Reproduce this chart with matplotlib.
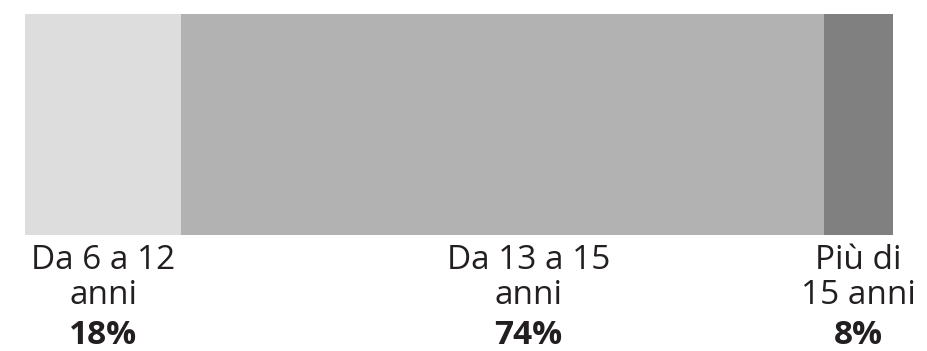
import matplotlib.pyplot as plt

# age groups of the chart
labels = ['Da 6 a 12\nanni', 'Da 13 a 15\nanni', 'Più di\n15 anni']
shares = [18, 74, 8]
pct_labels = ['18%', '74%', '8%']
colors = ['#dddddd', '#b2b2b2', '#808080']

plt.rcParams['font.family'] = ['Open Sans', 'DejaVu Sans']

fig = plt.figure(figsize=(9.27, 3.51), dpi=100)
ax = fig.add_axes([25 / 927, 116 / 351, 868 / 927, 221 / 351])

left = 0
label_x = []
for share, color in zip(shares, colors):
    ax.barh(0, share, left=left, height=1, color=color, linewidth=0)
    label_x.append(left + share / 2)
    left += share

# the middle label sits a bit right of its segment centre in the original
label_x[1] += 3

ax.set_xlim(0, 100)
ax.set_ylim(-0.5, 0.5)
ax.axis('off')

for x, lab, pct in zip(label_x, labels, pct_labels):
    ax.annotate(lab, xy=(x, -0.5), xytext=(0, -9), textcoords='offset pixels',
                ha='center', va='top', fontsize=24, color='#231f20',
                linespacing=1.09)
    ax.annotate(pct, xy=(x, -0.5), xytext=(0, -84), textcoords='offset pixels',
                ha='center', va='top', fontsize=24, fontweight='bold',
                color='#231f20')

fig.savefig('out.png', dpi=100)
